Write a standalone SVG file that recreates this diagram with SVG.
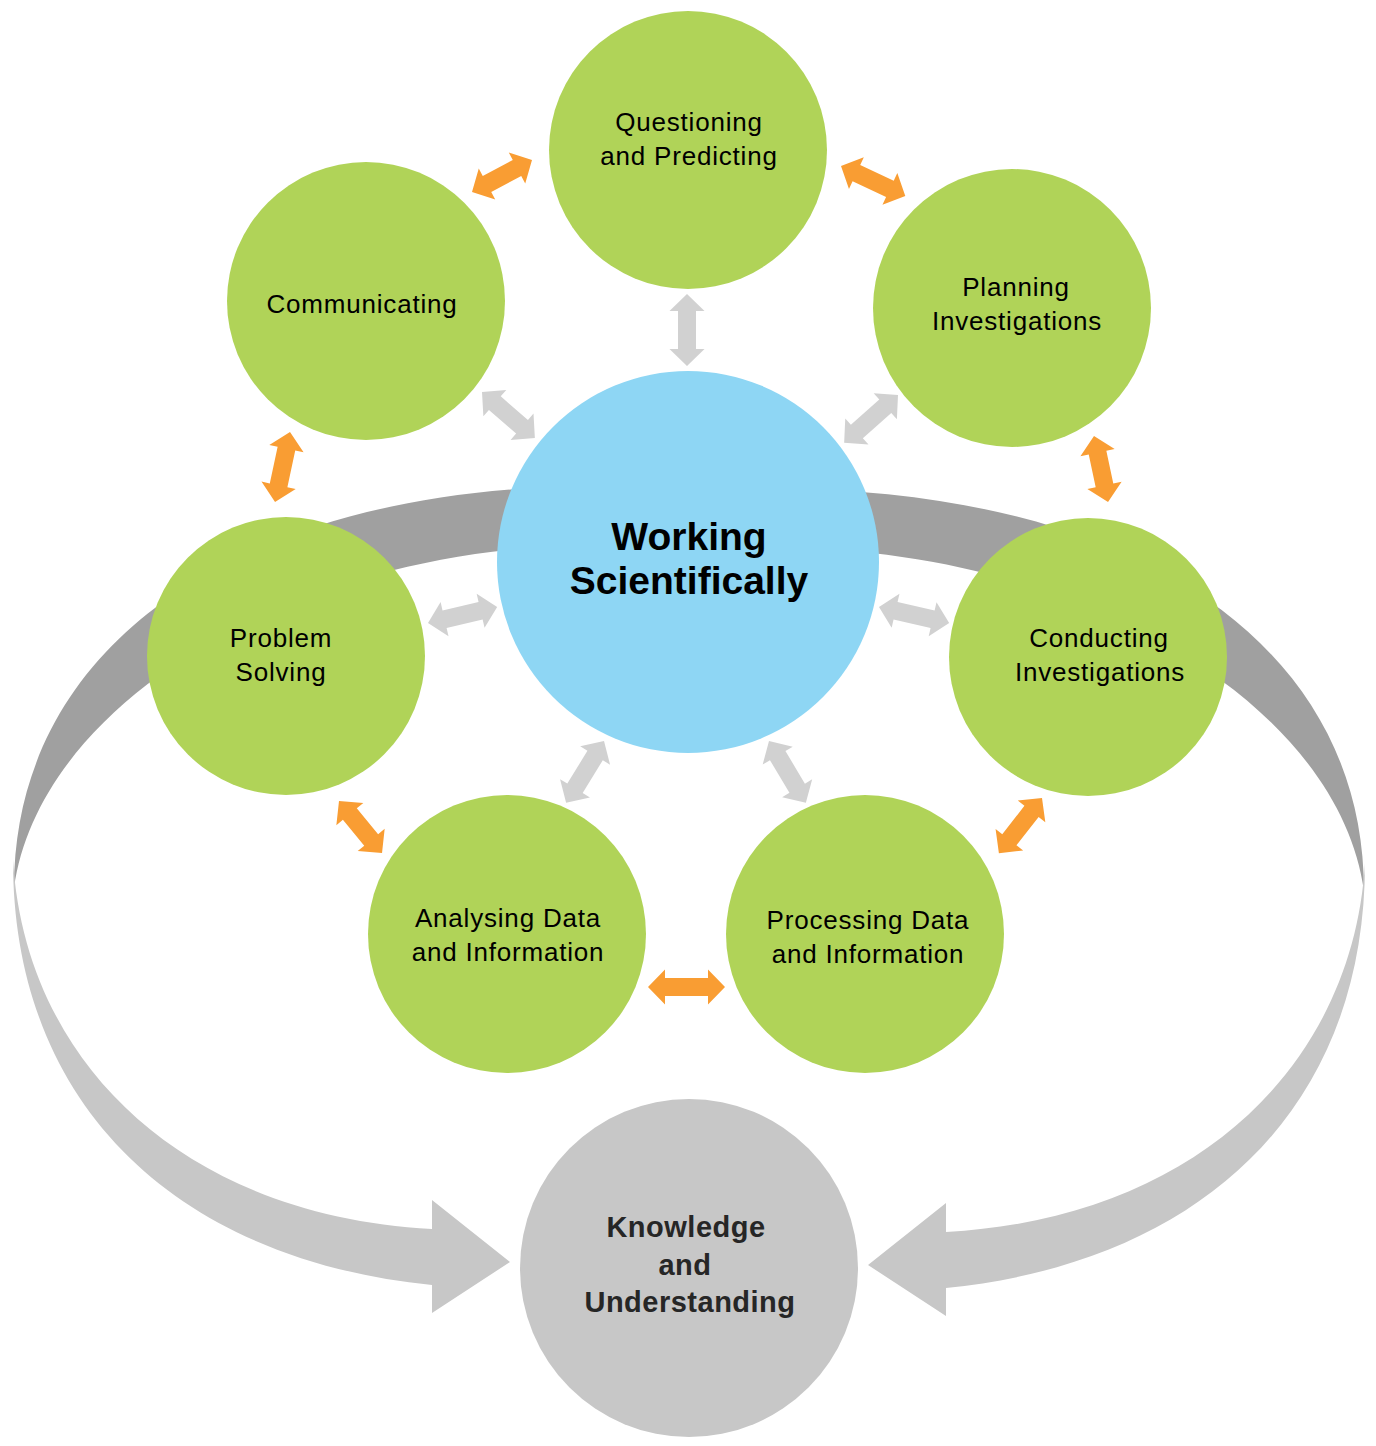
<svg xmlns="http://www.w3.org/2000/svg" xmlns:xlink="http://www.w3.org/1999/xlink" width="1376" height="1446" viewBox="0 0 1376 1446">
<style>
.green{fill:#b0d358}
.blue{fill:#8ed6f4}
.know{fill:#c7c7c7}
.dark{fill:#a0a0a0}
.light{fill:#c7c7c7}
.orange{fill:#f99d33}
.grey{fill:#d1d1d1}
.lbl{font-family:"Liberation Sans",Arial,Helvetica,sans-serif;font-size:26px;letter-spacing:0.8px;fill:#000;text-anchor:middle}
.main{font-family:"Liberation Sans",Arial,Helvetica,sans-serif;font-size:39px;font-weight:bold;fill:#000;text-anchor:middle}
.klbl{font-family:"Liberation Sans",Arial,Helvetica,sans-serif;font-size:29px;font-weight:bold;fill:#262626;text-anchor:middle;letter-spacing:0.5px}
</style>
<defs>
<g id="bigArrow">
<path class="dark" d="M600,486 C250,486 14,638 14,888 C40,700 300,545 600,545 Z"/>
<path class="light" d="M13,860 C13,1110 182,1260 432,1285 L432,1313 L510,1262 L432,1200 L432,1229 C180,1215 25,1060 13,860 Z"/>
</g>
</defs>
<g id="connectors">
<use xlink:href="#bigArrow"/>
<use xlink:href="#bigArrow" transform="translate(1378,3) scale(-1,1)"/>
<polygon class="orange" transform="translate(472,192) rotate(-28.07)" points="0,0 17,-17.5 17,-9 51,-9 51,-17.5 68,0 51,17.5 51,9 17,9 17,17.5"/>
<polygon class="orange" transform="translate(841,166) rotate(25.1)" points="0,0 17,-17.5 17,-9 54,-9 54,-17.5 71,0 54,17.5 54,9 17,9 17,17.5"/>
<polygon class="orange" transform="translate(1094,436) rotate(78)" points="0,0 17,-17.5 17,-9 50.5,-9 50.5,-17.5 67.5,0 50.5,17.5 50.5,9 17,9 17,17.5"/>
<polygon class="orange" transform="translate(1042,798) rotate(128)" points="0,0 17,-17.5 17,-9 53,-9 53,-17.5 70,0 53,17.5 53,9 17,9 17,17.5"/>
<polygon class="orange" transform="translate(648,987)" points="0,0 17,-17.5 17,-9 60,-9 60,-17.5 77,0 60,17.5 60,9 17,9 17,17.5"/>
<polygon class="orange" transform="translate(339,801) rotate(50.4)" points="0,0 17,-17.5 17,-9 50.5,-9 50.5,-17.5 67.5,0 50.5,17.5 50.5,9 17,9 17,17.5"/>
<polygon class="orange" transform="translate(290,432) rotate(102.1)" points="0,0 17,-17.5 17,-9 54.5,-9 54.5,-17.5 71.5,0 54.5,17.5 54.5,9 17,9 17,17.5"/>
<polygon class="grey" transform="translate(687,294) rotate(90)" points="0,0 17,-17.5 17,-9 55,-9 55,-17.5 72,0 55,17.5 55,9 17,9 17,17.5"/>
<polygon class="grey" transform="translate(482,392) rotate(40.95)" points="0,0 17,-17.5 17,-9 53,-9 53,-17.5 70,0 53,17.5 53,9 17,9 17,17.5"/>
<polygon class="grey" transform="translate(898,395) rotate(138.4)" points="0,0 17,-17.5 17,-9 55,-9 55,-17.5 72,0 55,17.5 55,9 17,9 17,17.5"/>
<polygon class="grey" transform="translate(428,623) rotate(-13.05)" points="0,0 17,-17.5 17,-9 54,-9 54,-17.5 71,0 54,17.5 54,9 17,9 17,17.5"/>
<polygon class="grey" transform="translate(879,607) rotate(12.9)" points="0,0 17,-17.5 17,-9 55,-9 55,-17.5 72,0 55,17.5 55,9 17,9 17,17.5"/>
<polygon class="grey" transform="translate(604,741) rotate(121.5)" points="0,0 17,-17.5 17,-9 55.5,-9 55.5,-17.5 72.5,0 55.5,17.5 55.5,9 17,9 17,17.5"/>
<polygon class="grey" transform="translate(769,741) rotate(59.2)" points="0,0 17,-17.5 17,-9 55,-9 55,-17.5 72,0 55,17.5 55,9 17,9 17,17.5"/>
</g>
<g id="questioning">
<circle class="green" cx="688" cy="150" r="139"/>
<text class="lbl" x="689" y="131">Questioning</text>
<text class="lbl" x="689" y="165">and Predicting</text>
</g>
<g id="communicating">
<circle class="green" cx="366" cy="301" r="139"/>
<text class="lbl" x="362" y="313">Communicating</text>
</g>
<g id="planning">
<circle class="green" cx="1012" cy="308" r="139"/>
<text class="lbl" x="1016" y="296">Planning</text>
<text class="lbl" x="1017" y="330">Investigations</text>
</g>
<g id="problem">
<circle class="green" cx="286" cy="656" r="139"/>
<text class="lbl" x="281" y="647">Problem</text>
<text class="lbl" x="281" y="681">Solving</text>
</g>
<g id="conducting">
<circle class="green" cx="1088" cy="657" r="139"/>
<text class="lbl" x="1099" y="647">Conducting</text>
<text class="lbl" x="1100" y="681">Investigations</text>
</g>
<g id="analysing">
<circle class="green" cx="507" cy="934" r="139"/>
<text class="lbl" x="508" y="927">Analysing Data</text>
<text class="lbl" x="508" y="961">and Information</text>
</g>
<g id="processing">
<circle class="green" cx="865" cy="934" r="139"/>
<text class="lbl" x="868" y="929">Processing Data</text>
<text class="lbl" x="868" y="963">and Information</text>
</g>
<g id="working">
<circle class="blue" cx="688" cy="562" r="191"/>
<text class="main" x="689" y="550">Working</text>
<text class="main" x="689" y="594">Scientifically</text>
</g>
<g id="knowledge">
<circle class="know" cx="689" cy="1268" r="169"/>
<text class="klbl" x="686" y="1237">Knowledge</text>
<text class="klbl" x="685" y="1275">and</text>
<text class="klbl" x="690" y="1312">Understanding</text>
</g>
</svg>
